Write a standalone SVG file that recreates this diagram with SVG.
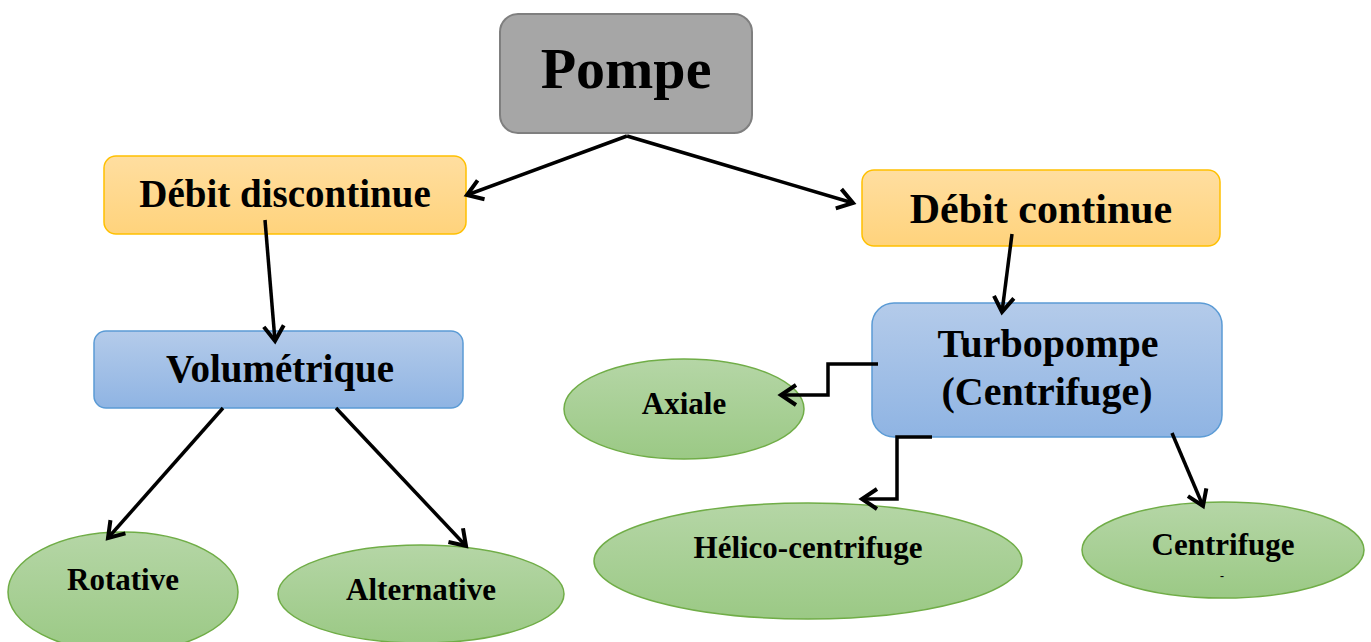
<svg xmlns="http://www.w3.org/2000/svg" width="1371" height="642" viewBox="0 0 1371 642">
  <defs>
    <linearGradient id="gOrange" x1="0" y1="0" x2="0" y2="1">
      <stop offset="0" stop-color="#ffdea0"/>
      <stop offset="1" stop-color="#ffd37c"/>
    </linearGradient>
    <linearGradient id="gBlue" x1="0" y1="0" x2="0" y2="1">
      <stop offset="0" stop-color="#b4cbea"/>
      <stop offset="1" stop-color="#8fb4e3"/>
    </linearGradient>
    <linearGradient id="gGreen" x1="0" y1="0" x2="0" y2="1">
      <stop offset="0" stop-color="#b5d6a6"/>
      <stop offset="1" stop-color="#9bc985"/>
    </linearGradient>
    <marker id="arrow" markerUnits="userSpaceOnUse" markerWidth="40" markerHeight="40" viewBox="-20 -20 40 40" refX="0" refY="0" orient="auto" overflow="visible">
      <path d="M-15,-10 L0,0 L-15,10" fill="none" stroke="#000" stroke-width="4" stroke-linejoin="miter"/>
    </marker>
    <style>
      .lbl { font-family: "Liberation Serif", "Times New Roman", serif; font-weight: bold; fill: #000; text-anchor: middle; }
      .orange { fill: url(#gOrange); stroke: #ffc000; stroke-width: 1.5; }
      .blue { fill: url(#gBlue); stroke: #5b9bd5; stroke-width: 1.5; }
      .green { fill: url(#gGreen); stroke: #70ad47; stroke-width: 1.5; }
      .conn { fill: none; stroke: #000; stroke-width: 3.5; marker-end: url(#arrow); }
    </style>
  </defs>

  <!-- root -->
  <g id="pompe">
    <rect x="500" y="14" width="252" height="119" rx="18" fill="#a6a6a6" stroke="#7f7f7f" stroke-width="2"/>
    <text class="lbl" x="626" y="88" font-size="58">Pompe</text>
  </g>

  <!-- flow categories -->
  <g id="debit-discontinue">
    <rect class="orange" x="104" y="156" width="362" height="78" rx="12"/>
    <text class="lbl" x="285" y="207" font-size="39">Débit discontinue</text>
  </g>
  <g id="debit-continue">
    <rect class="orange" x="862" y="170" width="358" height="76" rx="12"/>
    <text class="lbl" x="1041" y="223" font-size="42">Débit continue</text>
  </g>

  <!-- pump types -->
  <g id="volumetrique">
    <rect class="blue" x="94" y="331" width="369" height="77" rx="12"/>
    <text class="lbl" x="280" y="382" font-size="39">Volumétrique</text>
  </g>
  <g id="turbopompe">
    <rect class="blue" x="872" y="303" width="350" height="134" rx="22"/>
    <text class="lbl" x="1048" y="357" font-size="40">Turbopompe</text>
    <text class="lbl" x="1047" y="405" font-size="40">(Centrifuge)</text>
  </g>

  <!-- subtypes -->
  <g id="axiale">
    <ellipse class="green" cx="684" cy="409" rx="120" ry="50"/>
    <text class="lbl" x="684" y="414" font-size="31">Axiale</text>
  </g>
  <g id="rotative">
    <ellipse class="green" cx="123" cy="592" rx="115" ry="60"/>
    <text class="lbl" x="123" y="590" font-size="31">Rotative</text>
  </g>
  <g id="alternative">
    <ellipse class="green" cx="421" cy="594" rx="143" ry="49"/>
    <text class="lbl" x="421" y="600" font-size="31">Alternative</text>
  </g>
  <g id="helico-centrifuge">
    <ellipse class="green" cx="808" cy="561" rx="214" ry="58"/>
    <text class="lbl" x="808" y="558" font-size="31">Hélico-centrifuge</text>
  </g>
  <g id="centrifuge">
    <ellipse class="green" cx="1223" cy="550" rx="141" ry="48"/>
    <text class="lbl" x="1223" y="555" font-size="31">Centrifuge</text>
    <text class="lbl" x="1222" y="580" font-size="12">-</text>
  </g>

  <!-- connectors, drawn over the nodes -->
  <g id="connectors">
    <path class="conn" d="M627,136 L467,195"/>
    <path class="conn" d="M627,136 L853,203"/>
    <path class="conn" d="M265,220 L275,341"/>
    <path class="conn" d="M1012,234 L1002,312"/>
    <path class="conn" d="M223,408 L108,538"/>
    <path class="conn" d="M336,408 L466,546"/>
    <path class="conn" d="M878,364 L828,364 L828,395 L781,395"/>
    <path class="conn" d="M932,437 L897,437 L897,499 L862,499"/>
    <path class="conn" d="M1172,433 L1203,506"/>
  </g>
</svg>
